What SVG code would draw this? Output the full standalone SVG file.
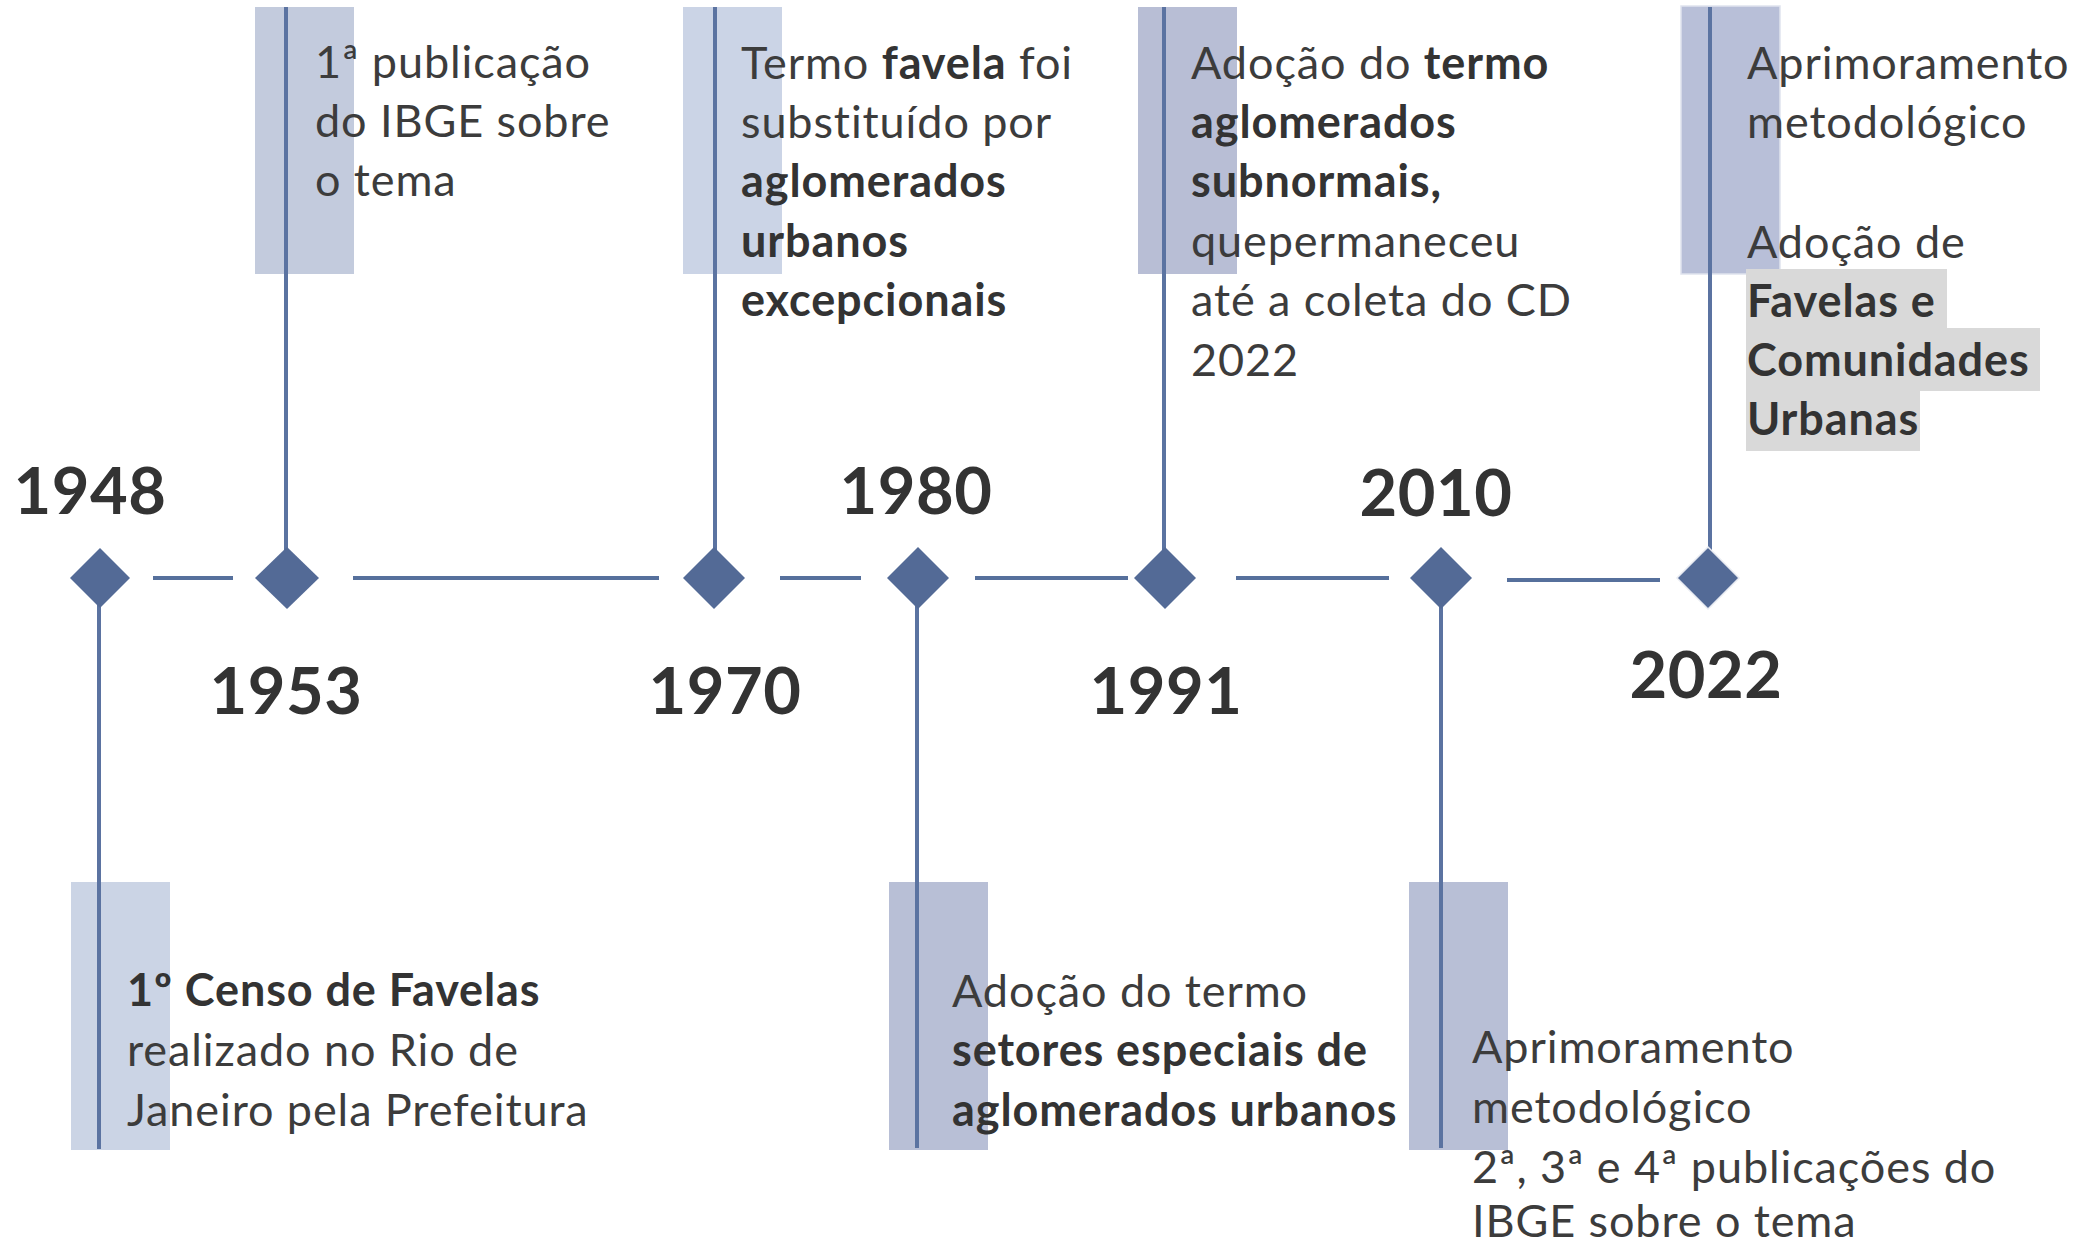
<svg xmlns="http://www.w3.org/2000/svg" width="2085" height="1246" viewBox="0 0 2085 1246">
<style>
.t{font-family:Lato,"Liberation Sans",sans-serif;font-size:45px;letter-spacing:0.9px;fill:#3c3c3c}
.b{font-weight:bold;fill:#333333}
.yr{font-family:Lato,"Liberation Sans",sans-serif;font-size:65px;letter-spacing:0.5px;font-weight:bold;fill:#333333;text-anchor:middle}
.seg{stroke:#56709c;stroke-width:4;fill:none}
.vl{stroke:#5b73a1;stroke-width:4;fill:none}
.dm{fill:#536a96}
.hl{fill:#d9d9d9}
</style>
<rect width="2085" height="1246" fill="#ffffff"/>
<g id="bars">
<rect x="255" y="7" width="99" height="267" fill="#c3cbdd"/>
<rect x="683" y="7" width="99" height="267" fill="#cbd4e6"/>
<rect x="1138" y="7" width="99" height="267" fill="#b8bed5"/>
<rect x="1681" y="6" width="99" height="268" fill="#b8bfd8" stroke="#dfe3ee" stroke-width="1.5"/>
<rect x="71" y="882" width="99" height="268" fill="#cbd4e5"/>
<rect x="889" y="882" width="99" height="268" fill="#b8bfd6"/>
<rect x="1409" y="882" width="99" height="268" fill="#b8bfd6"/>
</g>
<g id="connectors">
<line class="seg" x1="153" y1="578" x2="233" y2="578"/>
<line class="seg" x1="353" y1="578" x2="659" y2="578"/>
<line class="seg" x1="780" y1="578" x2="861" y2="578"/>
<line class="seg" x1="975" y1="578" x2="1128" y2="578"/>
<line class="seg" x1="1236" y1="578" x2="1389" y2="578"/>
<line class="seg" x1="1507" y1="580" x2="1660" y2="580"/>
<line class="vl" x1="99" y1="578" x2="99" y2="1149"/>
<line class="vl" x1="286" y1="7" x2="286" y2="578"/>
<line class="vl" x1="715" y1="7" x2="715" y2="578"/>
<line class="vl" x1="917" y1="578" x2="917" y2="1148"/>
<line class="vl" x1="1164" y1="7" x2="1164" y2="578"/>
<line class="vl" x1="1441" y1="578" x2="1441" y2="1148"/>
<line class="vl" x1="1710" y1="7" x2="1710" y2="578"/>
</g>
<g id="n1948">
<polygon class="dm" points="100,548 130,578 100,608 70,578"/>
<text class="yr" x="90" y="514">1948</text>
<text class="t" x="127" y="1006"><tspan class="b">1º Censo de Favelas</tspan></text>
<text class="t" x="127" y="1066">realizado no Rio de</text>
<text class="t" x="127" y="1126">Janeiro pela Prefeitura</text>
</g>
<g id="n1953">
<polygon class="dm" points="287,547 319,578 287,609 255,578"/>
<text class="yr" x="286" y="714">1953</text>
<text class="t" x="315" y="78">1ª publicação</text>
<text class="t" x="315" y="137">do IBGE sobre</text>
<text class="t" x="315" y="196">o tema</text>
</g>
<g id="n1970">
<polygon class="dm" points="714,547 745,578 714,609 683,578"/>
<text class="yr" x="725" y="714">1970</text>
<text class="t" x="741" y="79">Termo <tspan class="b">favela</tspan> foi</text>
<text class="t" x="741" y="138">substituído por</text>
<text class="t b" x="741" y="197">aglomerados</text>
<text class="t b" x="741" y="257">urbanos</text>
<text class="t b" x="741" y="316">excepcionais</text>
</g>
<g id="n1980">
<polygon class="dm" points="918,547 949,578 918,609 887,578"/>
<text class="yr" x="916" y="514">1980</text>
<text class="t" x="952" y="1007">Adoção do termo</text>
<text class="t b" x="952" y="1066">setores especiais de</text>
<text class="t b" x="952" y="1126">aglomerados urbanos</text>
</g>
<g id="n1991">
<polygon class="dm" points="1165,547 1196,578 1165,609 1134,578"/>
<text class="yr" x="1166" y="714">1991</text>
<text class="t" x="1191" y="79">Adoção do <tspan class="b">termo</tspan></text>
<text class="t b" x="1191" y="138">aglomerados</text>
<text class="t b" x="1191" y="197">subnormais,</text>
<text class="t" x="1191" y="257">quepermaneceu</text>
<text class="t" x="1191" y="316">até a coleta do CD</text>
<text class="t" x="1191" y="376">2022</text>
</g>
<g id="n2010">
<polygon class="dm" points="1441,547 1472,578 1441,609 1410,578"/>
<text class="yr" x="1436" y="516">2010</text>
<text class="t" x="1472" y="1063">Aprimoramento</text>
<text class="t" x="1472" y="1123">metodológico</text>
<text class="t" x="1472" y="1183">2ª, 3ª e 4ª publicações do</text>
<text class="t" x="1472" y="1237">IBGE sobre o tema</text>
</g>
<g id="n2022">
<polygon class="dm" points="1708,547 1739,578 1708,609 1677,578" stroke="#e8ebf2" stroke-width="1.5"/>
<text class="yr" x="1706" y="698">2022</text>
<rect class="hl" x="1746" y="269" width="201" height="59"/>
<rect class="hl" x="1746" y="328" width="294" height="63"/>
<rect class="hl" x="1746" y="391" width="174" height="60"/>
<text class="t" x="1747" y="79">Aprimoramento</text>
<text class="t" x="1747" y="138">metodológico</text>
<text class="t" x="1747" y="258">Adoção de</text>
<text class="t b" x="1747" y="317">Favelas e</text>
<text class="t b" x="1747" y="376">Comunidades</text>
<text class="t b" x="1747" y="435">Urbanas</text>
</g>
</svg>
